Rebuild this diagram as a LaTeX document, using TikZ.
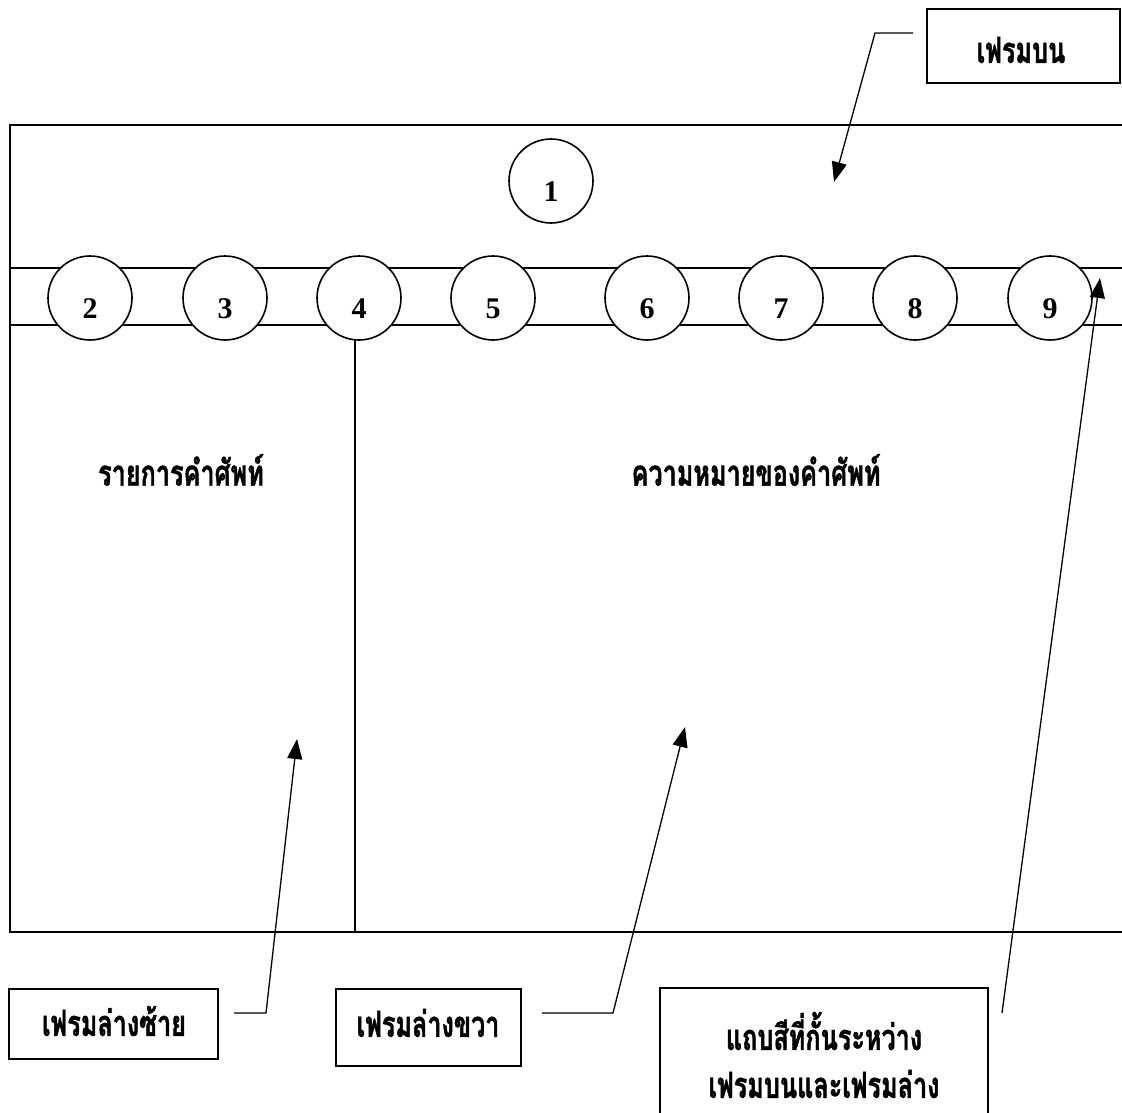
\documentclass[tikz,border=0pt]{standalone}
\usepackage{fontspec}
\usetikzlibrary{arrows.meta}
\setmainfont{Liberation Serif}
\newfontfamily\thai[Script=Thai,FakeStretch=0.7,BoldFeatures={FakeBold=1.2}]{Loma}
\begin{document}
\begin{tikzpicture}[x=1pt,y=-1pt,
  frame/.style={line width=1.8pt},
  numc/.style={circle,draw,line width=1.6pt,fill=white,minimum size=84pt,inner sep=0pt},
  numtxt/.style={font=\fontsize{30}{32}\selectfont\bfseries},
  thaitxt/.style={font=\thai\fontsize{36}{38}\selectfont\bfseries},
  labelbox/.style={draw,line width=1.8pt,inner sep=0pt},
  conn/.style={line width=1.3pt},
  arr/.style={conn,-{Triangle[length=20pt,width=15pt]}}]
\useasboundingbox (0,0) rectangle (1122,1113);
% frame
\draw[frame] (1122,125) -- (10,125) -- (10,932) -- (1122,932);
\draw[frame] (10,268) -- (1122,268);
\draw[frame] (10,325) -- (1122,325);
\draw[frame] (355,325) -- (355,932);
% circles
\node[numc] (c1) at (551,181) {};
\node[numtxt] at (551,192) {1};
\foreach \n/\x in {2/90,3/225,4/359,5/493,6/647,7/781,8/915,9/1050}{
  \node[numc] (c\n) at (\x,298) {};
  \node[numtxt] at (\x,309) {\n};
}
% area labels
\node[thaitxt] (lst) at (181,470) {รายการคำศัพท์};
\node[thaitxt] (mean) at (756,470) {ความหมายของคำศัพท์};
% boxes
\node[labelbox,minimum width=193pt,minimum height=74pt] (btop) at (1023.5,46) {};
\node[thaitxt] at (1021,50) {เฟรมบน};
\node[labelbox,minimum width=209pt,minimum height=70pt] (bleft) at (113.5,1024) {};
\node[thaitxt] at (114,1021) {เฟรมล่างซ้าย};
\node[labelbox,minimum width=185pt,minimum height=77pt] (bmid) at (428.5,1027.5) {};
\node[thaitxt] at (428,1023) {เฟรมล่างขวา};
\draw[line width=1.8pt] (660,1120) -- (660,988) -- (988,988) -- (988,1120);
\node[thaitxt] (bsep1) at (824,1031) {แถบสีที่กั้นระหว่าง};
\node[thaitxt] (bsep2) at (824,1084) {เฟรมบนและเฟรมล่าง};
% connectors
\coordinate (t1) at (913,33);
\coordinate (t2) at (875,33);
\coordinate (ttip) at (834,182);
\draw[arr] (t1) -- (t2) -- (ttip);
\coordinate (l1) at (234,1013);
\coordinate (l2) at (266,1013);
\coordinate (ltip) at (297,739);
\draw[arr] (l1) -- (l2) -- (ltip);
\coordinate (m1) at (542,1013);
\coordinate (m2) at (613,1013);
\coordinate (mtip) at (685,727);
\draw[arr] (m1) -- (m2) -- (mtip);
\coordinate (r1) at (1002,1013);
\coordinate (rtip) at (1100,278);
\draw[arr] (r1) -- (rtip);
\end{tikzpicture}
\end{document}
